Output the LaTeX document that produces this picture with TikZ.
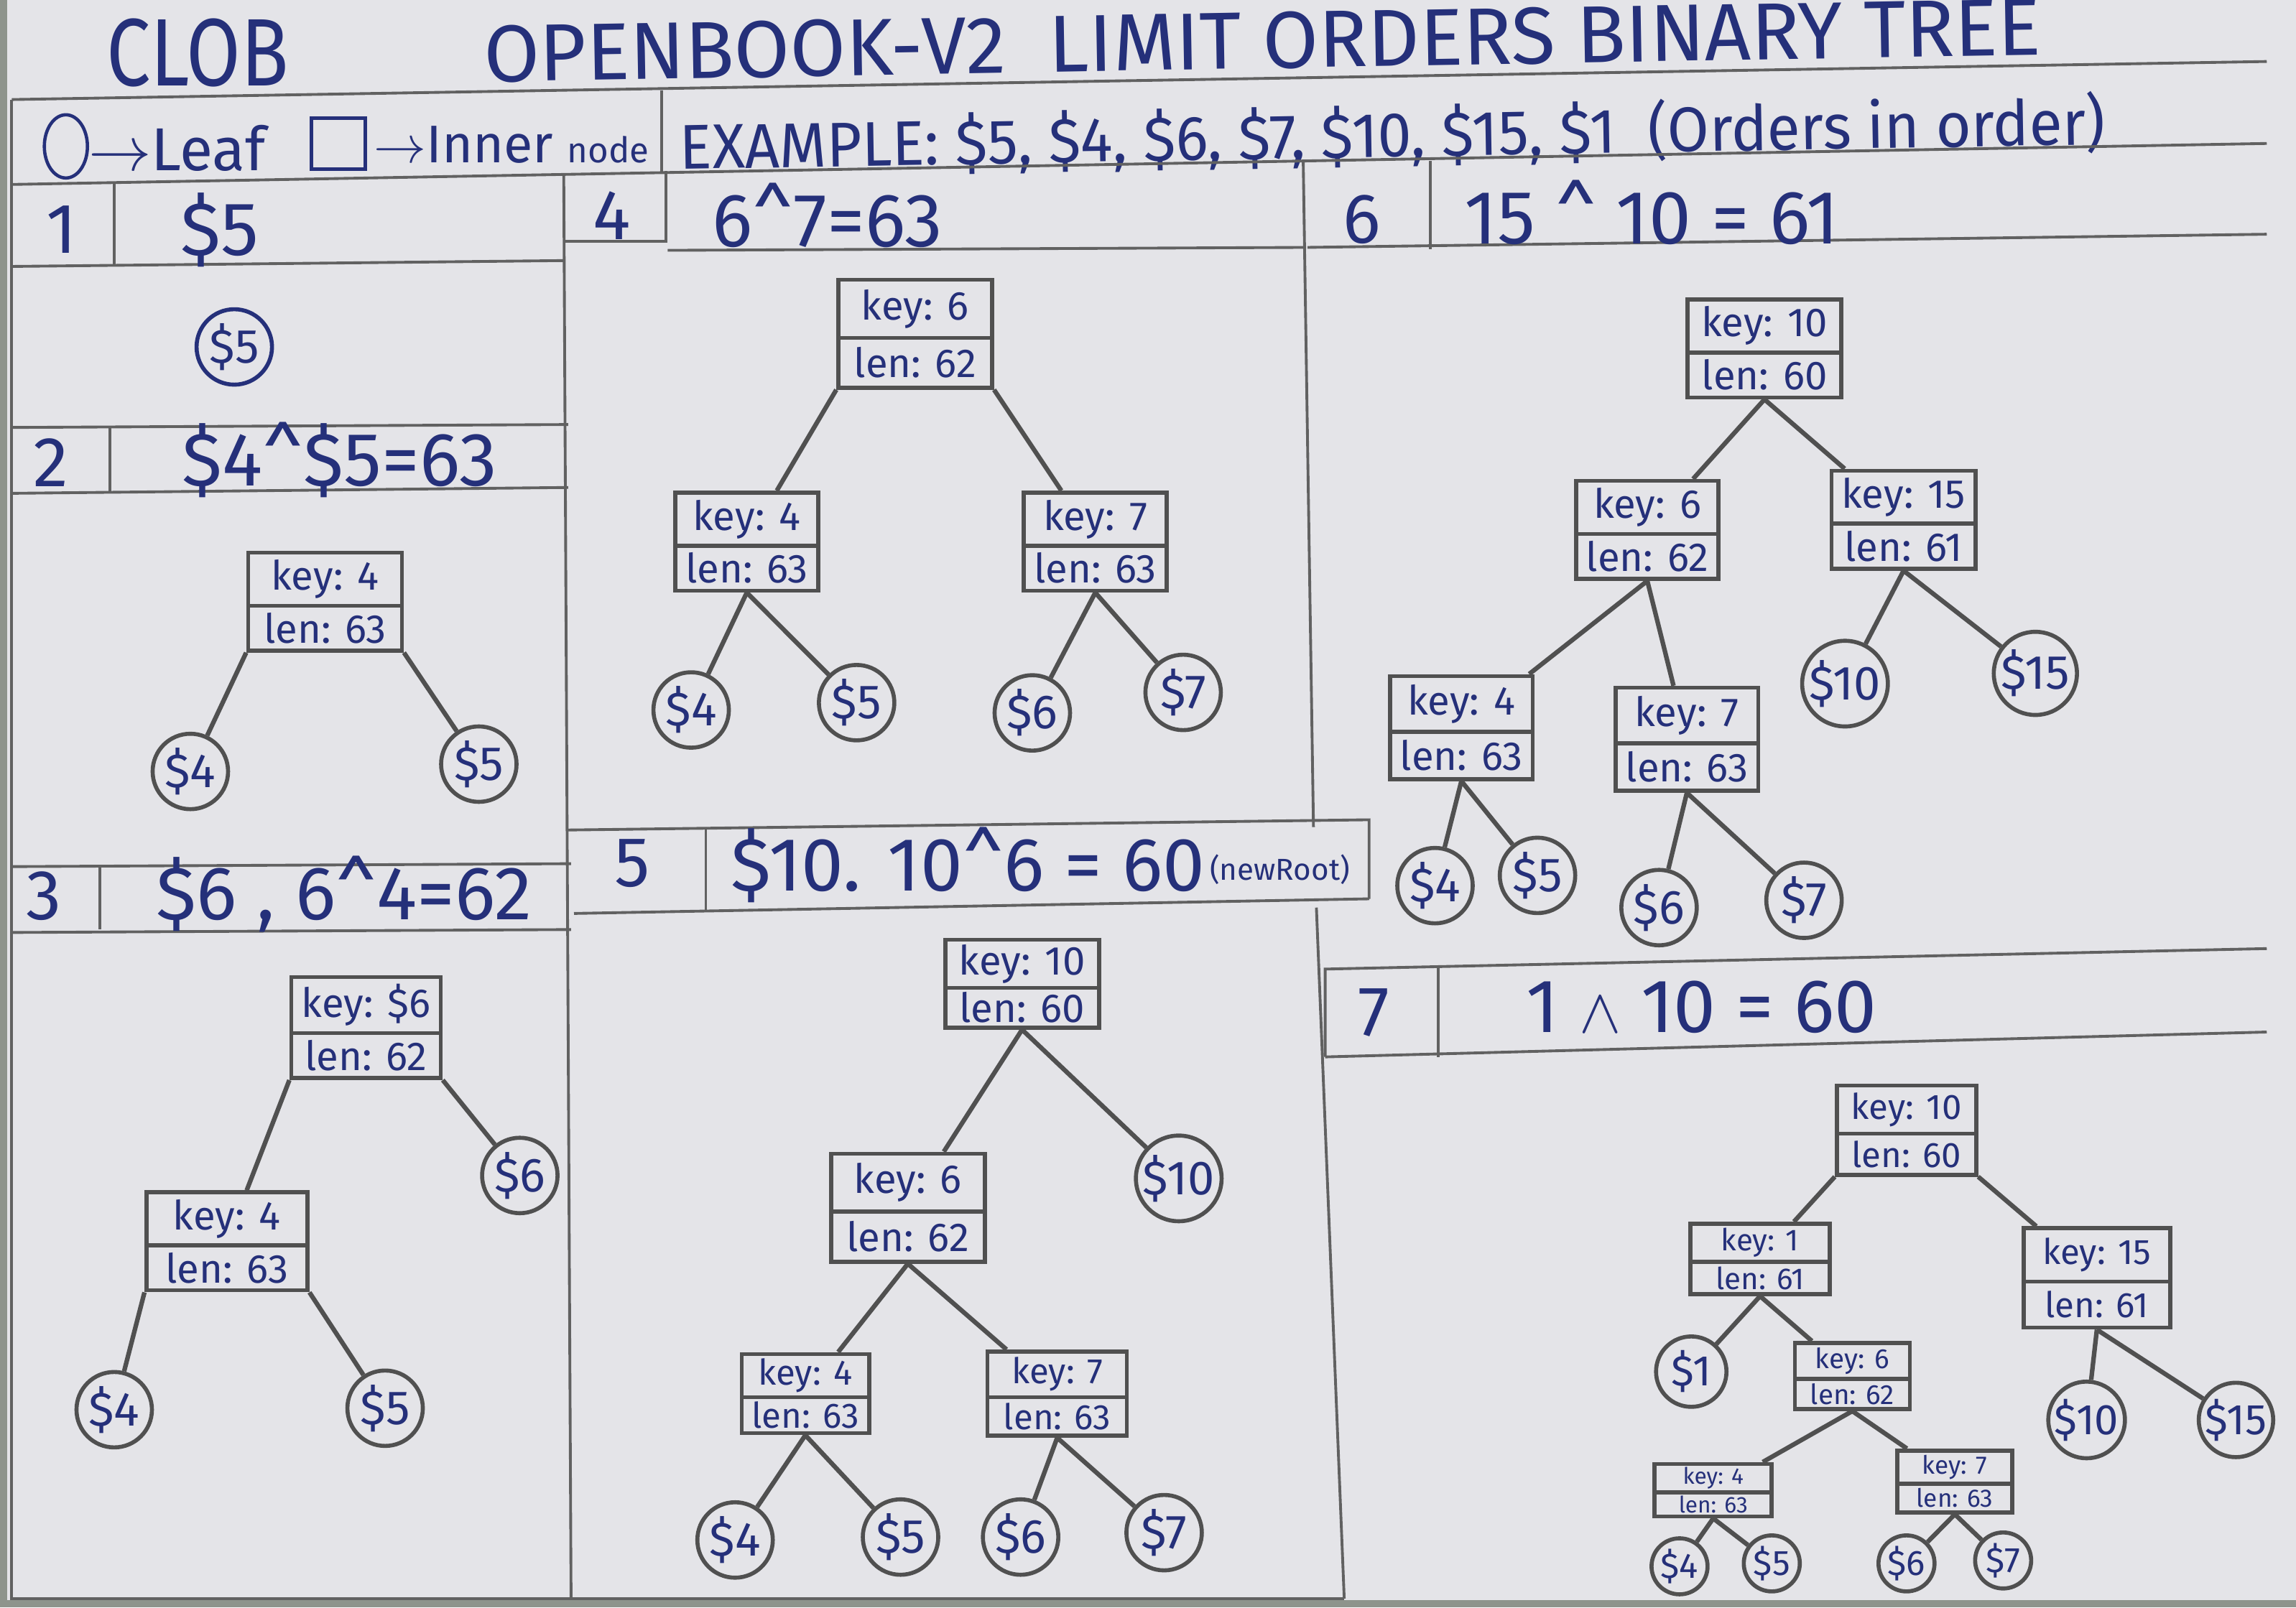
\documentclass[tikz,border=0pt]{standalone}
\usepackage{fontspec}
\setmainfont{Fira Sans}
\usetikzlibrary{shapes.multipart,shapes.geometric}
\definecolor{paper}{HTML}{E4E4E8}
\definecolor{ink}{HTML}{25307A}
\definecolor{pencil}{HTML}{505050}
\definecolor{desk}{HTML}{8E948C}
\tikzset{
  panelrule/.style={draw=pencil!90, line width=1.1pt},
  innerbox/.style={rectangle split, rectangle split parts=2, draw=pencil, line width=1.6pt, text=ink,
    font=\fontsize{16}{18}\selectfont, inner xsep=4pt, inner ysep=2pt, minimum width=2.1cm},
  leaf/.style={circle, draw=pencil, line width=1.6pt, text=ink, font=\fontsize{19}{21}\selectfont,
    minimum size=1.05cm, inner sep=0pt},
  smallleaf/.style={leaf, font=\fontsize{14}{16}\selectfont, minimum size=0.78cm},
  link/.style={draw=pencil, line width=1.8pt},
  hdr/.style={text=ink, font=\fontsize{30}{34}\selectfont, inner sep=0pt},
  num/.style={text=ink, font=\fontsize{28}{32}\selectfont, inner sep=0pt},
}
\newcommand{\caret}{\textasciicircum}

\begin{document}
\begin{tikzpicture}[x=0.2038mm, y=-0.2038mm]
	\useasboundingbox (0,0) rectangle (1568,1098);
	\fill[paper] (0,0) rectangle (1568,1098);
	\fill[desk] (0,0) rectangle (5,1098);
	\fill[desk] (0,1093) rectangle (1568,1098);

	% title and legend rows
	\node[text=ink, font=\fontsize{38}{42}\selectfont, inner sep=0pt] (clob) at (135,36) {\scalebox{0.82}[1]{CLOB}};
	\node[text=ink, font=\fontsize{32}{36}\selectfont, inner sep=0pt, anchor=west, rotate=1] (title) at (330,37) {OPENBOOK-V2 \ LIMIT ORDERS BINARY TREE};
	\node[ellipse, draw=ink, line width=1.3pt, minimum width=0.6cm, minimum height=0.88cm, inner sep=0pt] (legleaf) at (45,100) {};
	\node[text=ink, font=\fontsize{24}{28}\selectfont, anchor=west, inner sep=0pt] (legleaftxt) at (60,101) {$\to$Leaf};
	\node[draw=ink, line width=1.3pt, minimum width=0.75cm, minimum height=0.71cm, inner sep=0pt] (leginner) at (231,98) {};
	\node[text=ink, font=\fontsize{21}{24}\selectfont, anchor=west, inner sep=0pt] (leginnertxt) at (255,99) {$\to$Inner {\fontsize{14}{16}\selectfont node}};
	\node[text=ink, font=\fontsize{25}{28}\selectfont, inner sep=0pt, anchor=west, rotate=1] (example) at (464,101) {\scalebox{0.96}[1]{EXAMPLE: \$5, \$4, \$6, \$7, \$10, \$15, \$1 \ (Orders in order)}};

	% panel rules
	\draw[panelrule] (8,68) -- (1548,42);
	\draw[panelrule] (8,126) -- (1548,98);
	\draw[panelrule] (8,68) -- (8,1092) -- (918,1092);
	\draw[panelrule] (452,62) -- (452,118);
	\draw[panelrule] (78,125) -- (78,182);
	\draw[panelrule] (8,182) -- (385,178);
	\draw[panelrule] (385,120) -- (390,1092);
	\draw[panelrule] (8,292) -- (388,290);
	\draw[panelrule] (75,292) -- (75,337);
	\draw[panelrule] (8,337) -- (388,333);
	\draw[panelrule] (8,592) -- (390,590);
	\draw[panelrule] (68,592) -- (68,635);
	\draw[panelrule] (8,637) -- (390,635);
	\draw[panelrule] (455,117) -- (455,165) -- (385,165);
	\draw[panelrule] (456,171) -- (892,169);
	\draw[panelrule] (890,110) -- (897,565);
	\draw[panelrule] (388,567) -- (935,560) -- (935,614);
	\draw[panelrule] (482,565) -- (482,622);
	\draw[panelrule] (392,624) -- (935,614);
	\draw[panelrule] (899,620) -- (918,1092);
	\draw[panelrule] (977,110) -- (977,170);
	\draw[panelrule] (893,169) -- (1548,160);
	\draw[panelrule] (905,722) -- (905,662) -- (1548,648);
	\draw[panelrule] (982,660) -- (982,722);
	\draw[panelrule] (905,722) -- (1548,705);

	% panel headers
	\node[num] (n1) at (42,157) {1};
	\node[hdr] (h1) at (150,157) {\$5};
	\node[num] (n2) at (35,316) {2};
	\node[hdr] (h2) at (232,314) {\$4\caret\$5=63};
	\node[num] (n3) at (30,612) {3};
	\node[hdr] (h3) at (235,611) {\$6 , 6\caret4=62};
	\node[num] (n4) at (418,147) {4};
	\node[hdr] (h4) at (565,147) {6\caret7=63};
	\node[num] (n5) at (432,590) {5};
	\node[hdr] (h5) at (661,591) {\$10. 10\caret6 = 60};
	\node[text=ink, font=\fontsize{12}{14}\selectfont, anchor=west, inner sep=0pt] (h5note) at (826,594) {(newRoot)};
	\node[num] (n6) at (930,150) {6};
	\node[hdr] (h6) at (1128,145) {15 \caret\ 10 = 61};
	\node[num] (n7) at (938,692) {7};
	\node[hdr] (h7) at (1162,688) {1 $\wedge$ 10 = 60};

	% 1
	\node[leaf, draw=ink] (p1l5) at (160,237) {\$5};

	% 2
	\node[innerbox, minimum width=2.14cm] (p2k4) at (222,411) {key: 4\nodepart{two}len: 63};
	\node[leaf] (p2l4) at (130,527) {\$4};
	\node[leaf] (p2l5) at (327,522) {\$5};
	\draw[link] (p2k4.south west) -- (p2l4);
	\draw[link] (p2k4.south east) -- (p2l5);

	% 3
	\node[innerbox, minimum width=2.04cm] (p3k6) at (250,702) {key: \$6\nodepart{two}len: 62};
	\node[leaf] (p3l6) at (355,803) {\$6};
	\node[innerbox, minimum width=2.24cm] (p3k4) at (155,848) {key: 4\nodepart{two}len: 63};
	\node[leaf] (p3l4) at (78,963) {\$4};
	\node[leaf] (p3l5) at (263,962) {\$5};
	\draw[link] (p3k6.south west) -- (p3k4);
	\draw[link] (p3k6.south east) -- (p3l6);
	\draw[link] (p3k4.south west) -- (p3l4);
	\draw[link] (p3k4.south east) -- (p3l5);

	% 4
	\node[innerbox, minimum width=2.14cm, inner ysep=3pt] (p4k6) at (625,228) {key: 6\nodepart{two}len: 62};
	\node[innerbox, minimum width=1.94cm] (p4k4) at (510,370) {key: 4\nodepart{two}len: 63};
	\node[innerbox, minimum width=1.94cm] (p4k7) at (748,370) {key: 7\nodepart{two}len: 63};
	\node[leaf] (p4l4) at (472,485) {\$4};
	\node[leaf] (p4l5) at (585,480) {\$5};
	\node[leaf] (p4l6) at (705,487) {\$6};
	\node[leaf] (p4l7) at (808,473) {\$7};
	\draw[link] (p4k6.south west) -- (p4k4);
	\draw[link] (p4k6.south east) -- (p4k7);
	\foreach \a/\b in {p4k4/p4l4, p4k4/p4l5, p4k7/p4l6, p4k7/p4l7}
	\draw[link] (\a.south) -- (\b);

	% 5
	\node[innerbox, minimum width=2.14cm, inner ysep=1pt] (p5k10) at (698,672) {key: 10\nodepart{two}len: 60};
	\node[innerbox, minimum width=2.14cm, inner ysep=3pt] (p5k6) at (620,825) {key: 6\nodepart{two}len: 62};
	\node[leaf] (p5l10) at (805,805) {\$10};
	\node[innerbox, minimum width=1.73cm, font=\fontsize{14}{16}\selectfont, inner ysep=1pt] (p5k4) at (550,952) {key: 4\nodepart{two}len: 63};
	\node[innerbox, minimum width=1.94cm, font=\fontsize{14}{16}\selectfont, inner ysep=1.5pt] (p5k7) at (722,952) {key: 7\nodepart{two}len: 63};
	\node[leaf] (p5l4) at (502,1052) {\$4};
	\node[leaf] (p5l5) at (615,1050) {\$5};
	\node[leaf] (p5l6) at (697,1050) {\$6};
	\node[leaf] (p5l7) at (795,1047) {\$7};
	\foreach \a/\b in {p5k10/p5k6, p5k10/p5l10, p5k6/p5k4, p5k6/p5k7, p5k4/p5l4, p5k4/p5l5, p5k7/p5l6, p5k7/p5l7}
	\draw[link] (\a.south) -- (\b);

	% 6
	\begin{scope}[every node/.append style={font=\fontsize{14}{16}\selectfont}]
	\node[innerbox, minimum width=2.14cm] (p6k10) at (1205,238) {key: 10\nodepart{two}len: 60};
	\node[innerbox, minimum width=1.94cm] (p6k6) at (1125,362) {key: 6\nodepart{two}len: 62};
	\node[innerbox, minimum width=1.94cm] (p6k15) at (1300,355) {key: 15\nodepart{two}len: 61};
	\node[innerbox, minimum width=1.86cm, inner ysep=2.5pt] (p6k4) at (998,497) {key: 4\nodepart{two}len: 63};
	\node[innerbox, minimum width=1.94cm, inner ysep=2.5pt] (p6k7) at (1152,505) {key: 7\nodepart{two}len: 63};
	\end{scope}
	\node[leaf] (p6l10) at (1260,467) {\$10};
	\node[leaf] (p6l15) at (1390,460) {\$15};
	\node[leaf] (p6l4) at (980,605) {\$4};
	\node[leaf] (p6l5) at (1050,598) {\$5};
	\node[leaf] (p6l6) at (1133,620) {\$6};
	\node[leaf] (p6l7) at (1232,615) {\$7};
	\foreach \a/\b in {p6k10/p6k6, p6k10/p6k15, p6k6/p6k4, p6k6/p6k7, p6k15/p6l10, p6k15/p6l15,
	  p6k4/p6l4, p6k4/p6l5, p6k7/p6l6, p6k7/p6l7}
	\draw[link] (\a.south) -- (\b);

	% 7
	\node[innerbox, minimum width=1.94cm, font=\fontsize{14}{16}\selectfont, inner ysep=2pt] (p7k10) at (1302,772) {key: 10\nodepart{two}len: 60};
	\node[innerbox, minimum width=1.94cm, font=\fontsize{12}{14}\selectfont, inner ysep=1pt] (p7k1) at (1202,860) {key: 1\nodepart{two}len: 61};
	\node[innerbox, minimum width=2.04cm, font=\fontsize{14}{16}\selectfont, inner ysep=3pt] (p7k15) at (1432,873) {key: 15\nodepart{two}len: 61};
	\node[leaf, font=\fontsize{17}{19}\selectfont, minimum size=0.98cm] (p7l1) at (1155,937) {\$1};
	\node[innerbox, minimum width=1.6cm, font=\fontsize{11}{13}\selectfont, inner ysep=1pt] (p7k6) at (1265,940) {key: 6\nodepart{two}len: 62};
	\node[leaf, font=\fontsize{17}{19}\selectfont, minimum size=0.98cm] (p7l10) at (1425,970) {\$10};
	\node[leaf, font=\fontsize{17}{19}\selectfont, minimum size=0.98cm] (p7l15) at (1527,970) {\$15};
	\node[innerbox, minimum width=1.63cm, font=\fontsize{9}{10}\selectfont, inner ysep=0.5pt] (p7k4) at (1170,1018) {key: 4\nodepart{two}len: 63};
	\node[innerbox, minimum width=1.6cm, font=\fontsize{10}{11}\selectfont, inner ysep=1pt] (p7k7) at (1335,1012) {key: 7\nodepart{two}len: 63};
	\node[smallleaf] (p7l4) at (1147,1070) {\$4};
	\node[smallleaf] (p7l5) at (1210,1068) {\$5};
	\node[smallleaf] (p7l6) at (1302,1068) {\$6};
	\node[smallleaf] (p7l7) at (1368,1066) {\$7};
	\draw[link] (p7k10.south west) -- (p7k1);
	\draw[link] (p7k10.south east) -- (p7k15);
	\foreach \a/\b in {p7k1/p7l1, p7k1/p7k6, p7k15/p7l10, p7k15/p7l15, p7k6/p7k4, p7k6/p7k7,
	  p7k4/p7l4, p7k4/p7l5, p7k7/p7l6, p7k7/p7l7}
	\draw[link] (\a.south) -- (\b);
\end{tikzpicture}
\end{document}
